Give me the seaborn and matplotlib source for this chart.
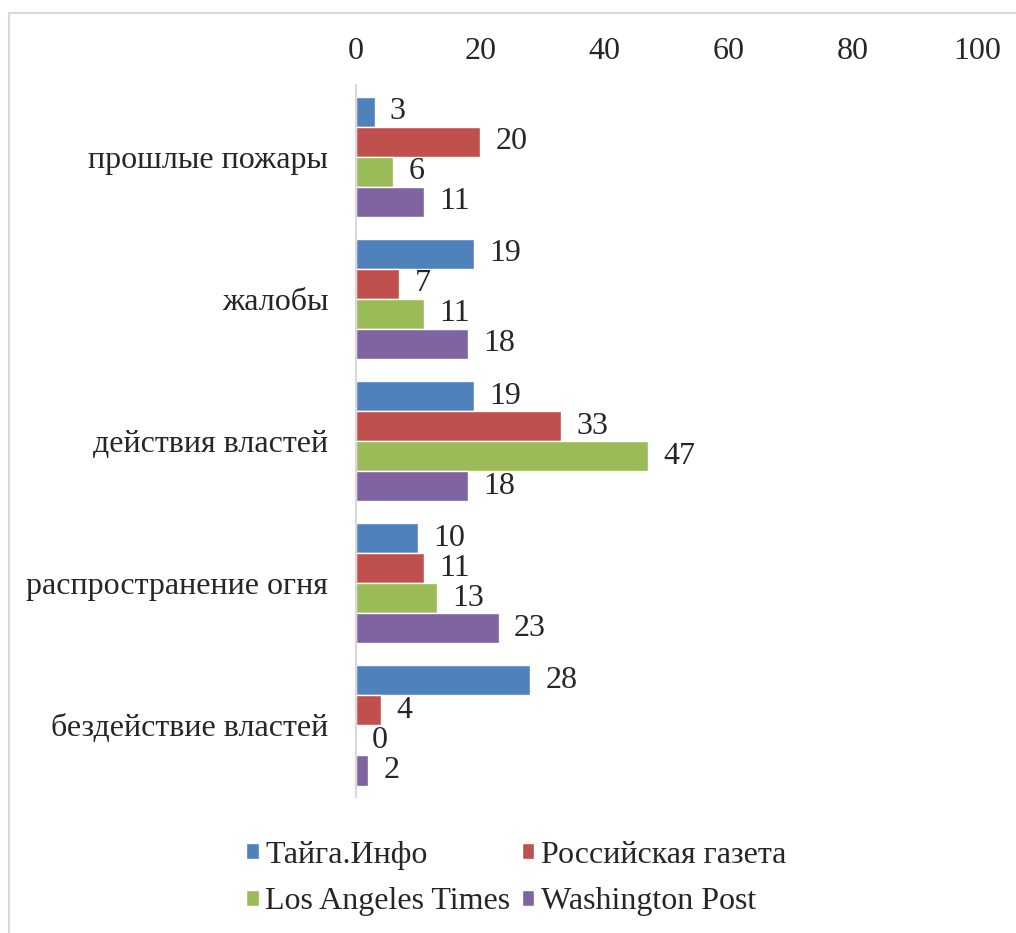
import pandas as pd
import matplotlib.pyplot as plt
from matplotlib.patches import Rectangle
import seaborn as sns

# данные
categories = ['прошлые пожары', 'жалобы', 'действия властей',
              'распространение огня', 'бездействие властей']
sources = ['Тайга.Инфо', 'Российская газета', 'Los Angeles Times', 'Washington Post']
taiga = [3, 19, 19, 10, 28]
rg = [20, 7, 33, 11, 4]
lat = [6, 11, 47, 13, 0]
wp = [11, 18, 18, 23, 2]
colors = ['#4F81BD', '#C0504D', '#9BBB59', '#8064A2']

rows = []
for src, vals in zip(sources, [taiga, rg, lat, wp]):
    for cat, v in zip(categories, vals):
        rows.append({'cat': cat, 'src': src, 'val': v})
df = pd.DataFrame(rows)

sns.set_style('white')
plt.rcParams['font.family'] = ['Liberation Serif', 'DejaVu Serif']
FS = 23

fig = plt.figure(figsize=(10.16, 9.33), dpi=100)
ax = fig.add_axes([0.3504, 0.1462, 0.6112, 0.7622])

sns.barplot(df, x='val', y='cat', hue='src', order=categories, hue_order=sources,
            palette=colors, orient='h', width=0.844, saturation=1, ax=ax)

for c in ax.containers:
    ax.bar_label(c, padding=11, fontsize=FS)

ax.set_xlim(0, 100)
ax.set_xticks(range(0, 101, 20))
ax.xaxis.tick_top()
ax.tick_params(axis='x', length=0, pad=14, labelsize=FS)
ax.tick_params(axis='y', length=0, pad=20, labelsize=FS)
ax.set_xlabel('')
ax.set_ylabel('')
for s in ['top', 'right', 'bottom']:
    ax.spines[s].set_visible(False)
ax.spines['left'].set_color('#D9D9D9')
ax.spines['left'].set_linewidth(1.5)

handles, labels = ax.get_legend_handles_labels()
ax.get_legend().remove()
# порядок по строкам: 2 колонки
idx = [0, 2, 1, 3]
fig.legend([handles[i] for i in idx], [labels[i] for i in idx], ncol=2, loc='center',
           bbox_to_anchor=(0.508, 0.0585), frameon=False, fontsize=FS,
           handlelength=0.4, handleheight=0.4, handletextpad=0.2,
           columnspacing=0.35, labelspacing=0.55)

# рамка области диаграммы
fig.add_artist(Rectangle((9 / 1016, -0.1), 1.2, 1 - 13 / 933 + 0.1, fill=False,
                         edgecolor='#D9D9D9', lw=1.5, transform=fig.transFigure))

fig.savefig('out.png', dpi=100)
